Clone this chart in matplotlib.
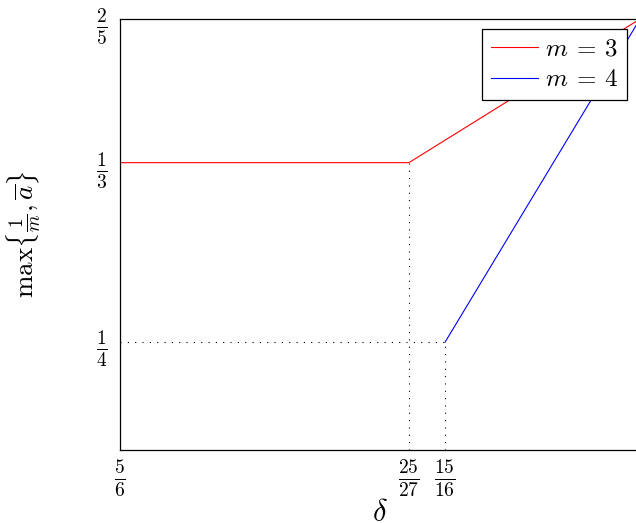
import matplotlib
matplotlib.use("Agg")
import matplotlib.pyplot as plt

plt.rcParams["mathtext.fontset"] = "cm"
plt.rcParams["font.family"] = ["DejaVu Serif"]

# piecewise curves for m = 3 and m = 4
m3_x = [5 / 6, 25 / 27, 1]
m3_y = [1 / 3, 1 / 3, 2 / 5]
m4_x = [15 / 16, 1]
m4_y = [1 / 4, 2 / 5]

x_ticks = [5 / 6, 25 / 27, 15 / 16, 1]
x_labels = [r"$\frac{5}{6}$", r"$\frac{25}{27}$", r"$\frac{15}{16}$", r"$1$"]
y_ticks = [1 / 4, 1 / 3, 2 / 5]
y_labels = [r"$\frac{1}{4}$", r"$\frac{1}{3}$", r"$\frac{2}{5}$"]

x_min, x_max = 5 / 6, 1
y_min, y_max = 1 / 5, 2 / 5

fig = plt.figure(figsize=(6.36, 5.23), dpi=100)
ax = fig.add_axes([120 / 636, 73 / 523, 520 / 636, 431 / 523])

# dotted guides
dots = (0, (1, 5.6))
ax.plot([25 / 27, 25 / 27], [y_min, 1 / 3], ls=dots, color="black", lw=0.8)
ax.plot([15 / 16, 15 / 16], [y_min, 1 / 4], ls=dots, color="black", lw=0.8)
ax.plot([x_min, 15 / 16], [1 / 4, 1 / 4], ls=dots, color="black", lw=0.8)

ax.plot(m3_x, m3_y, color="#ff0000", lw=0.8, label=r"$m\:=\:3$")
ax.plot(m4_x, m4_y, color="#0000ff", lw=0.8, label=r"$m\:=\:4$")

ax.set_xlim(x_min, x_max)
ax.set_ylim(y_min, y_max)
ax.set_xticks(x_ticks)
ax.set_xticklabels(x_labels, fontsize=20)
ax.set_yticks(y_ticks)
ax.set_yticklabels(y_labels, fontsize=20)
ax.tick_params(axis="both", length=0)
ax.tick_params(axis="x", pad=5)
ax.tick_params(axis="y", pad=9)
for s in ax.spines.values():
    s.set_linewidth(0.9)

ax.set_xlabel(r"$\delta$", fontsize=22)
ax.xaxis.set_label_coords(0.5, -0.108)
ax.set_ylabel(r"$\max\{\frac{1}{m}, \overline{a}\}$", fontsize=19.5)
ax.yaxis.set_label_coords(-0.148, 0.5)

leg = ax.legend(loc="upper right", fontsize=18, frameon=True, fancybox=False,
                framealpha=1, edgecolor="black", handlelength=1.9,
                handletextpad=0.25, labelspacing=0.3, borderpad=0.35,
                borderaxespad=0,
                bbox_to_anchor=(1 - 13 / 520, 1 - 10 / 431))
leg.get_frame().set_linewidth(0.9)

fig.savefig("out.png", dpi=100)
